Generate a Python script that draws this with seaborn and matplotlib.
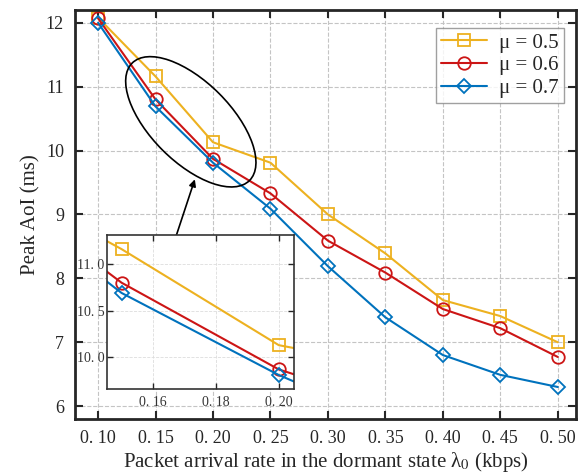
import numpy as np
import pandas as pd
import matplotlib
matplotlib.use('Agg')
import matplotlib.pyplot as plt
import matplotlib.transforms as mtransforms
from matplotlib.patches import Ellipse
import seaborn as sns

# data
rates = [0.10, 0.15, 0.20, 0.25, 0.30, 0.35, 0.40, 0.45, 0.50]
aoi_mu05 = [12.08, 11.16, 10.13, 9.81, 9.00, 8.39, 7.66, 7.41, 7.00]
aoi_mu06 = [12.07, 10.80, 9.87, 9.33, 8.59, 8.09, 7.52, 7.22, 6.77]
aoi_mu07 = [12.00, 10.69, 9.81, 9.09, 8.19, 7.39, 6.80, 6.49, 6.30]
series_labels = ['μ = 0.5', 'μ = 0.6', 'μ = 0.7']
x_ticklabels = ['0. 10', '0. 15', '0. 20', '0. 25', '0. 30', '0. 35', '0. 40', '0. 45', '0. 50']
y_ticks = [6, 7, 8, 9, 10, 11, 12]
inset_xticks = [0.16, 0.18, 0.20]
inset_xticklabels = ['0. 16', '0. 18', '0. 20']
inset_yticks = [10.0, 10.5, 11.0]
inset_yticklabels = ['10. 0', '10. 5', '11. 0']

colors = ['#EDB120', '#CC1515', '#0072BD']
markers = ['s', 'o', 'D']
msizes = [8, 9, 7]

df = pd.DataFrame({
    'rate': rates * 3,
    'aoi': aoi_mu05 + aoi_mu06 + aoi_mu07,
    'mu': [series_labels[0]] * 9 + [series_labels[1]] * 9 + [series_labels[2]] * 9,
})

sns.set_style('ticks')
plt.rcParams['font.family'] = ['Liberation Serif', 'DejaVu Serif']
plt.rcParams['mathtext.fontset'] = 'stix'

fig = plt.figure(figsize=(5.82, 4.75), dpi=100)
ax = fig.add_axes([0.129, 0.118, 0.861, 0.861])


def draw_lines(a, lw=1.5, legend=True):
    for lab, c, m, ms in zip(series_labels, colors, markers, msizes):
        sub = df[df['mu'] == lab]
        sns.lineplot(data=sub, x='rate', y='aoi', ax=a, color=c, marker=m,
                     markersize=ms, markerfacecolor='none', markeredgecolor=c,
                     markeredgewidth=1.3, linewidth=lw, label=lab if legend else None,
                     legend=legend)


draw_lines(ax)
ax.set_xlim(0.08, 0.516)
ax.set_ylim(5.8, 12.2)
ax.set_xticks(rates)
ax.set_xticklabels(x_ticklabels)
ax.set_yticks(y_ticks)
ax.tick_params(direction='in', top=True, right=True, length=6, width=1.5,
               labelsize=13, pad=8)
ax.tick_params(axis='x', labeltop=False)
ax.grid(True, linestyle='--', color='#c4c4c4', linewidth=0.8)
for s in ax.spines.values():
    s.set_linewidth(2)
ax.set_xlabel('Packet arrival rate in the dormant state λ$_0$ (kbps)', fontsize=15, labelpad=2)
ax.set_ylabel('Peak AoI (ms)', fontsize=15)

leg = ax.legend(loc='upper right', bbox_to_anchor=(0.976, 0.956), fontsize=15,
                frameon=True, fancybox=False, edgecolor='#888888', borderpad=0.25,
                handlelength=2.2, labelspacing=0.15, handletextpad=0.6,
                borderaxespad=0.0)
leg.get_frame().set_linewidth(1.0)

# ellipse highlighting the zoomed region
cx, cy = 0.1807, 10.45
tr = fig.dpi_scale_trans + mtransforms.ScaledTranslation(cx, cy, ax.transData)
ell = Ellipse((0, 0), width=1.66, height=0.80, angle=-45, transform=tr,
              fill=False, edgecolor='black', linewidth=1.2, zorder=5)
ax.add_patch(ell)
ax.annotate('', xy=(0.1842, 9.55), xytext=(0.1675, 8.64),
            arrowprops=dict(arrowstyle='-|>', color='black', lw=1.2,
                            mutation_scale=10, shrinkA=0, shrinkB=0))

# inset
ins = fig.add_axes([0.184, 0.181, 0.321, 0.324])
ins.set_facecolor('white')
draw_lines(ins, lw=1.5, legend=False)
ins.set_xlim(0.1454, 0.2048)
ins.set_ylim(9.66, 11.31)
ins.set_xticks(inset_xticks)
ins.set_xticklabels(inset_xticklabels)
ins.set_yticks(inset_yticks)
ins.set_yticklabels(inset_yticklabels)
ins.set_xlabel('')
ins.set_ylabel('')
ins.tick_params(direction='in', top=True, right=True, length=4, width=1,
                labelsize=10, labelcolor='#333333', pad=2)
ins.tick_params(axis='x', pad=5)
ins.grid(True, linestyle='--', color='#dddddd', linewidth=0.6)
for s in ins.spines.values():
    s.set_linewidth(1.2)
    s.set_color('#333333')

fig.savefig('out.png', dpi=100)
